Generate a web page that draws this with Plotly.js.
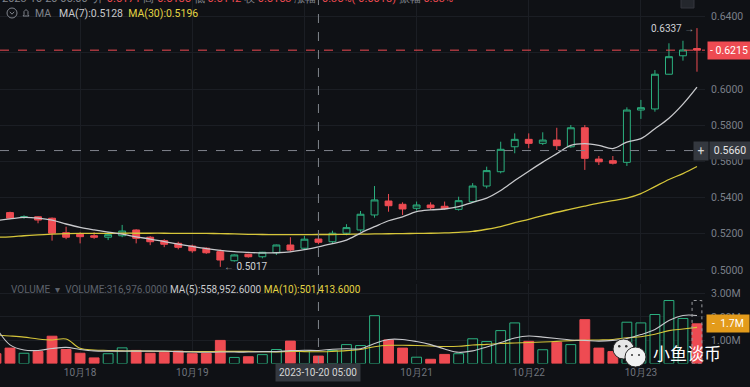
<!DOCTYPE html>
<html><head><meta charset="utf-8">
<script src="https://cdn.plot.ly/plotly-3.0.1.min.js"></script>
<style>html,body{margin:0;padding:0;background:#0f1115;overflow:hidden;}</style>
</head><body><div id="chart" style="width:750px;height:387px;"></div>
<script>
// ---- data ----
const times = ["2023-10-17 08:00","2023-10-17 11:00","2023-10-17 14:00","2023-10-17 17:00","2023-10-17 20:00","2023-10-17 23:00",
"2023-10-18 02:00","2023-10-18 05:00","2023-10-18 08:00","2023-10-18 11:00","2023-10-18 14:00","2023-10-18 17:00","2023-10-18 20:00","2023-10-18 23:00",
"2023-10-19 02:00","2023-10-19 05:00","2023-10-19 08:00","2023-10-19 11:00","2023-10-19 14:00","2023-10-19 17:00","2023-10-19 20:00","2023-10-19 23:00",
"2023-10-20 02:00","2023-10-20 05:00","2023-10-20 08:00","2023-10-20 11:00","2023-10-20 14:00","2023-10-20 17:00","2023-10-20 20:00","2023-10-20 23:00",
"2023-10-21 02:00","2023-10-21 05:00","2023-10-21 08:00","2023-10-21 11:00","2023-10-21 14:00","2023-10-21 17:00","2023-10-21 20:00","2023-10-21 23:00",
"2023-10-22 02:00","2023-10-22 05:00","2023-10-22 08:00","2023-10-22 11:00","2023-10-22 14:00","2023-10-22 17:00","2023-10-22 20:00","2023-10-22 23:00",
"2023-10-23 02:00","2023-10-23 05:00","2023-10-23 08:00","2023-10-23 11:00","2023-10-23 14:00"];
const open  = [0.5322,0.5317,0.5290,0.5294,0.5286,0.5206,0.5197,0.5189,0.5181,0.5189,0.5221,0.5181,0.5162,0.5147,0.5132,0.5120,0.5101,0.5051,0.5087,0.5073,0.5095,0.5138,0.5120,0.5171,0.5156,0.5203,0.5221,0.5304,0.5381,0.5363,0.5341,0.5359,0.5352,0.5335,0.5377,0.5464,0.5543,0.5681,0.5722,0.5700,0.5718,0.5681,0.5786,0.5613,0.5604,0.5595,0.5884,0.5890,0.6082,0.6184,0.6224];
const high  = [0.5326,0.5322,0.5302,0.5297,0.5290,0.5239,0.5208,0.5208,0.5211,0.5249,0.5225,0.5187,0.5170,0.5156,0.5140,0.5125,0.5112,0.5086,0.5090,0.5100,0.5140,0.5181,0.5188,0.5185,0.5217,0.5253,0.5326,0.5464,0.5420,0.5374,0.5378,0.5374,0.5378,0.5405,0.5480,0.5571,0.5709,0.5755,0.5755,0.5761,0.5786,0.5801,0.5801,0.5630,0.5630,0.5899,0.5940,0.6105,0.6253,0.6267,0.6337];
const low   = [0.5290,0.5282,0.5283,0.5258,0.5162,0.5170,0.5147,0.5172,0.5165,0.5181,0.5147,0.5137,0.5126,0.5114,0.5095,0.5089,0.5017,0.5046,0.5068,0.5064,0.5083,0.5101,0.5110,0.5142,0.5143,0.5192,0.5211,0.5289,0.5322,0.5304,0.5328,0.5333,0.5333,0.5328,0.5370,0.5451,0.5534,0.5645,0.5673,0.5691,0.5663,0.5675,0.5553,0.5580,0.5583,0.5575,0.5835,0.5875,0.6080,0.6157,0.6096];
const close = [0.5294,0.5286,0.5294,0.5276,0.5203,0.5181,0.5184,0.5181,0.5195,0.5215,0.5175,0.5156,0.5142,0.5125,0.5106,0.5095,0.5055,0.5083,0.5073,0.5098,0.5138,0.5110,0.5170,0.5153,0.5203,0.5234,0.5308,0.5387,0.5355,0.5337,0.5359,0.5344,0.5339,0.5383,0.5464,0.5549,0.5667,0.5722,0.5700,0.5718,0.5687,0.5786,0.5617,0.5598,0.5590,0.5884,0.5897,0.6082,0.6179,0.6216,0.6215];
const ma7   = [0.5272,0.5282,0.5291,0.5287,0.5276,0.5254,0.5235,0.5221,0.5209,0.5198,0.5183,0.5171,0.5157,0.5143,0.5130,0.5118,0.5108,0.5101,0.5097,0.5094,0.5095,0.5100,0.5112,0.5128,0.5145,0.5165,0.5204,0.5239,0.5272,0.5294,0.5322,0.5332,0.5337,0.5350,0.5374,0.5397,0.5439,0.5494,0.5546,0.5596,0.5643,0.5689,0.5698,0.5689,0.5671,0.5707,0.5726,0.5781,0.5839,0.5917,0.6011];
const ma30  = [0.5181,0.5183,0.5189,0.5194,0.5198,0.5201,0.5202,0.5202,0.5202,0.5203,0.5203,0.5203,0.5203,0.5202,0.5202,0.5202,0.5201,0.5199,0.5197,0.5196,0.5195,0.5195,0.5195,0.5196,0.5196,0.5197,0.5198,0.5199,0.5200,0.5201,0.5202,0.5203,0.5205,0.5208,0.5213,0.5225,0.5240,0.5261,0.5280,0.5300,0.5319,0.5336,0.5353,0.5369,0.5383,0.5397,0.5422,0.5461,0.5500,0.5533,0.5572];
const volume = [420000,660000,440000,510000,1170000,600000,440000,240000,420000,670000,560000,440000,480000,530000,420000,430000,990000,260000,290000,380000,600000,960000,530000,316976,560000,810000,770000,2050000,1010000,660000,270000,180000,390000,420000,1060000,940000,1410000,1740000,950000,590000,910000,810000,1880000,660000,510000,1770000,1740000,2100000,2700000,1930000,1700000];
const volMa5  = [1550000,800000,580000,560000,640000,690000,600000,540000,530000,530000,530000,530000,530000,510000,490000,480000,490000,490000,490000,510000,510000,550000,570000,558952.6,610000,630000,630000,860000,1030000,1030000,940000,810000,620000,480000,540000,710000,900000,1090000,1180000,1130000,1070000,1010000,990000,960000,990000,1070000,1240000,1460000,1840000,2060000,2060000];
const volMa10 = [1220000,1180000,1130000,1050000,1010000,1050000,650000,580000,560000,540000,540000,530000,520000,520000,510000,510000,520000,520000,520000,510000,500000,520000,510000,501413.6,520000,550000,600000,720000,780000,780000,770000,750000,730000,740000,790000,820000,860000,880000,900000,920000,950000,980000,1000000,1010000,1030000,1100000,1150000,1250000,1410000,1480000,1550000];
const projectedVol = 2700000;
const dayTickTimes = ["2023-10-18 02:00","2023-10-19 02:00","2023-10-20 02:00","2023-10-21 02:00","2023-10-22 02:00","2023-10-23 02:00"];
const dayTickText  = ["10月18","10月19","","10月21","10月22","10月23"];   // 10月20 sits under the crosshair label
const priceTicks = [0.50,0.52,0.54,0.56,0.58,0.60,0.62,0.64];
const priceTickText = ["0.5000","0.5200","0.5400","0.5600","0.5800","0.6000","","0.6400"]; // 0.6200 sits under the price tag
const volTicks = [1000000,2000000,3000000];
const volTickText = ["1.00M","2.00M","3.00M"];
const crossTime = "2023-10-20 05:00";
const crossPrice = 0.5660;
const crossInfo = {o:"0.5171", h:"0.5185", l:"0.5142", c:"0.5153", chg:"-0.35%(-0.0018)", amp:"0.83%"};

// ---- styling ----
const BG = '#0f1115', UP = '#2bb07f', DOWN = '#ee4b52', MA7C = '#c8c9cc', MA30C = '#d6c63a';
const PW = 705, PH = 365;
const px = v => v / PW, py = v => (PH - v) / PH;
const n = times.length, last = n - 1;
const lastClose = close[last], lastVol = volume[last];
let hiIdx = 0, loIdx = 0;
for (let i = 0; i < n; i++) { if (high[i] > high[hiIdx]) hiIdx = i; if (low[i] < low[loIdx]) loIdx = i; }
const isUp = close.map((c, i) => c >= open[i]);

const traces = [
  {type:'candlestick', x:times, open:open, high:high, low:low, close:close, xaxis:'x', yaxis:'y',
   increasing:{line:{color:UP,width:1}, fillcolor:BG}, decreasing:{line:{color:DOWN,width:1}, fillcolor:DOWN},
   whiskerwidth:0, hoverinfo:'skip', showlegend:false},
  {type:'scatter', mode:'lines', x:times, y:ma30, line:{color:MA30C,width:1.3,shape:'spline'}, yaxis:'y', hoverinfo:'skip', showlegend:false},
  {type:'scatter', mode:'lines', x:times, y:ma7, line:{color:MA7C,width:1.3,shape:'spline'}, yaxis:'y', hoverinfo:'skip', showlegend:false},
  {type:'bar', x:times, y:volume, yaxis:'y2', width:0.7,
   marker:{color:isUp.map(u => u ? BG : DOWN), line:{color:isUp.map(u => u ? UP : DOWN), width:1}},
   hoverinfo:'skip', showlegend:false},
  {type:'scatter', mode:'lines', x:times, y:volMa10, line:{color:MA30C,width:1.1,shape:'spline'}, yaxis:'y2', hoverinfo:'skip', showlegend:false},
  {type:'scatter', mode:'lines', x:times, y:volMa5, line:{color:MA7C,width:1.1,shape:'spline'}, yaxis:'y2', hoverinfo:'skip', showlegend:false}
];

const grid = '#1b1e24', tickC = '#7a7f88';
const shapes = [
  {type:'line', xref:'paper', yref:'y', x0:0, x1:1, y0:lastClose, y1:lastClose, line:{color:DOWN,width:1,dash:'dash'}},
  {type:'line', xref:'paper', yref:'y', x0:0, x1:px(693), y0:crossPrice, y1:crossPrice, line:{color:'#80848c',width:1,dash:'dash'}},
  {type:'line', xref:'x', yref:'paper', x0:crossTime, x1:crossTime, y0:0, y1:1, line:{color:'#80848c',width:1,dash:'dash'}},
  {type:'rect', xref:'x', yref:'y2', x0:last-0.35, x1:last+0.35, y0:0, y1:projectedVol, line:{color:'#9a9ca0',width:1,dash:'dot'}},
  // legend chevron icon
  {type:'circle', xref:'paper', yref:'paper', x0:px(7), x1:px(17), y0:py(18), y1:py(8), line:{color:'#80848c',width:1}},
  {type:'path', xref:'paper', yref:'paper', path:`M${px(9.8)},${py(11.8)} L${px(12)},${py(14.2)} L${px(14.2)},${py(11.8)}`, line:{color:'#80848c',width:1}},
  // bell icon
  {type:'path', xref:'paper', yref:'paper', path:`M${px(23)},${py(16)} L${px(29)},${py(16)} L${px(28)},${py(14.5)} L${px(28)},${py(11.5)} L${px(26)},${py(9.5)} L${px(24)},${py(11.5)} L${px(24)},${py(14.5)} Z`, line:{color:'#80848c',width:1}},
  // top-right small icon
  {type:'rect', xref:'paper', yref:'paper', x0:px(681), x1:px(694), y0:py(8), y1:py(-2), fillcolor:'#24272d', line:{color:'#34373e',width:1}},
  // wechat-like watermark bubbles
  {type:'circle', xref:'paper', yref:'paper', x0:px(613), x1:px(634), y0:py(359), y1:py(339), fillcolor:'#e6e6e6', line:{color:'#2a2a2a',width:1}},
  {type:'circle', xref:'paper', yref:'paper', x0:px(625), x1:px(646), y0:py(367), y1:py(347), fillcolor:'#f2f2f2', line:{color:'#2a2a2a',width:1}},
  {type:'circle', xref:'paper', yref:'paper', x0:px(618), x1:px(620.5), y0:py(347.5), y1:py(345), fillcolor:'#333', line:{width:0}},
  {type:'circle', xref:'paper', yref:'paper', x0:px(625), x1:px(627.5), y0:py(347.5), y1:py(345), fillcolor:'#333', line:{width:0}},
  {type:'circle', xref:'paper', yref:'paper', x0:px(631), x1:px(633), y0:py(356), y1:py(354), fillcolor:'#333', line:{width:0}},
  {type:'circle', xref:'paper', yref:'paper', x0:px(638), x1:px(640), y0:py(356), y1:py(354), fillcolor:'#333', line:{width:0}}
];

const F = 'Roboto, "Noto Sans", sans-serif';
const annotations = [
  {xref:'paper', yref:'paper', x:0, y:py(-1), xanchor:'left', yanchor:'middle', showarrow:false, font:{family:F,size:11,color:DOWN},
   text:`<span style="color:#80848c">2023-10-20 05:00  开</span> ${crossInfo.o} <span style="color:#80848c">高</span> ${crossInfo.h} <span style="color:#80848c">低</span> ${crossInfo.l} <span style="color:#80848c">收</span> ${crossInfo.c} <span style="color:#80848c">涨幅</span> ${crossInfo.chg} <span style="color:#80848c">振幅</span> ${crossInfo.amp}`},
  {xref:'paper', yref:'paper', x:px(33), y:py(13.3), xanchor:'left', yanchor:'middle', showarrow:false, font:{family:F,size:10.5,color:'#80848c'},
   text:`MA   <span style="color:${MA7C}">MA(7):${ma7[23].toFixed(4)}</span>  <span style="color:#e3d443">MA(30):${ma30[23].toFixed(4)}</span>`},
  {xref:'paper', yref:'paper', x:px(9), y:py(290), xanchor:'left', yanchor:'middle', showarrow:false, font:{family:F,size:10,color:'#5d626b'},
   text:`VOLUME  ▾  VOLUME:${volume[23].toLocaleString('en-US',{minimumFractionDigits:4})} <span style="color:${MA7C}">MA(5):${volMa5[23].toLocaleString('en-US',{minimumFractionDigits:4})}</span> <span style="color:#e3d443">MA(10):${volMa10[23].toLocaleString('en-US',{minimumFractionDigits:4})}</span>`},
  {xref:'paper', yref:'y', x:px(707), y:lastClose, xanchor:'left', yanchor:'middle', showarrow:false, bgcolor:DOWN, borderpad:2, width:38,
   font:{family:F,size:10.5,color:'#ffffff'}, text:'- ' + lastClose.toFixed(4)},
  {xref:'paper', yref:'y', x:px(693), y:crossPrice, xanchor:'left', yanchor:'middle', showarrow:false, bgcolor:'#34383f', borderpad:2, width:10,
   font:{family:F,size:12,color:'#d8d8d8'}, text:'+'},
  {xref:'paper', yref:'y', x:px(709), y:crossPrice, xanchor:'left', yanchor:'middle', showarrow:false, bgcolor:'#34383f', borderpad:2, width:36,
   font:{family:F,size:10.5,color:'#e6e6e6'}, text:crossPrice.toFixed(4)},
  {xref:'paper', yref:'y2', x:px(706), y:lastVol, xanchor:'left', yanchor:'middle', showarrow:false, bgcolor:'#e39b1b', borderpad:2, width:38,
   font:{family:F,size:10.5,color:'#ffffff'}, text:'-  ' + (lastVol/1e6).toFixed(1) + 'M'},
  {xref:'x', yref:'y', x:times[hiIdx], y:high[hiIdx], xanchor:'right', yanchor:'middle', xshift:-1, showarrow:false,
   font:{family:F,size:10,color:'#d0d2d6'}, text:high[hiIdx].toFixed(4) + ' <span style="color:#9a9ca0">→</span>'},
  {xref:'x', yref:'y', x:times[loIdx], y:low[loIdx], xanchor:'left', yanchor:'middle', xshift:2, showarrow:false,
   font:{family:F,size:10,color:'#d0d2d6'}, text:'<span style="color:#9a9ca0">←</span> ' + low[loIdx].toFixed(4)},
  {xref:'x', yref:'paper', x:crossTime, y:py(373), xanchor:'center', yanchor:'middle', showarrow:false, bgcolor:'#34383f', borderpad:3,
   font:{family:F,size:10,color:'#d6d6d6'}, text:crossTime},
  {xref:'paper', yref:'paper', x:px(651), y:py(352), xanchor:'left', yanchor:'middle', showarrow:false,
   font:{family:'"Noto Sans CJK SC", sans-serif',size:17,color:'#ffffff'}, text:'小鱼谈币'}
];

const layout = {
  width:750, height:387, margin:{l:0, r:45, t:0, b:22},
  paper_bgcolor:BG, plot_bgcolor:BG, showlegend:false, dragmode:false, boxgap:0.3, bargap:0.3,
  font:{family:F, color:tickC},
  xaxis:{type:'category', anchor:'y2', range:[0.2867, 50.572], rangeslider:{visible:false}, tickvals:dayTickTimes, ticktext:dayTickText,
    showgrid:true, gridcolor:grid, zeroline:false, showline:false, ticks:'', tickfont:{size:10,color:'#6f747d'}, ticklabelstandoff:2, fixedrange:true},
  yaxis:{domain:[0.2329,1], range:[0.49445,0.649232], side:'right', anchor:'x', tickvals:priceTicks, ticktext:priceTickText,
    showgrid:true, gridcolor:grid, zeroline:false, showline:false, ticks:'', tickfont:{size:10.5,color:tickC}, ticklabelstandoff:5, fixedrange:true},
  yaxis2:{domain:[0.00411,0.2219], range:[0,3407600], side:'right', anchor:'x', tickvals:volTicks, ticktext:volTickText,
    showgrid:true, gridcolor:grid, zeroline:false, showline:false, ticks:'', tickfont:{size:10.5,color:tickC}, ticklabelstandoff:5, fixedrange:true},
  shapes:shapes, annotations:annotations
};
Plotly.newPlot('chart', traces, layout, {staticPlot:true, displayModeBar:false});
</script></body></html>
